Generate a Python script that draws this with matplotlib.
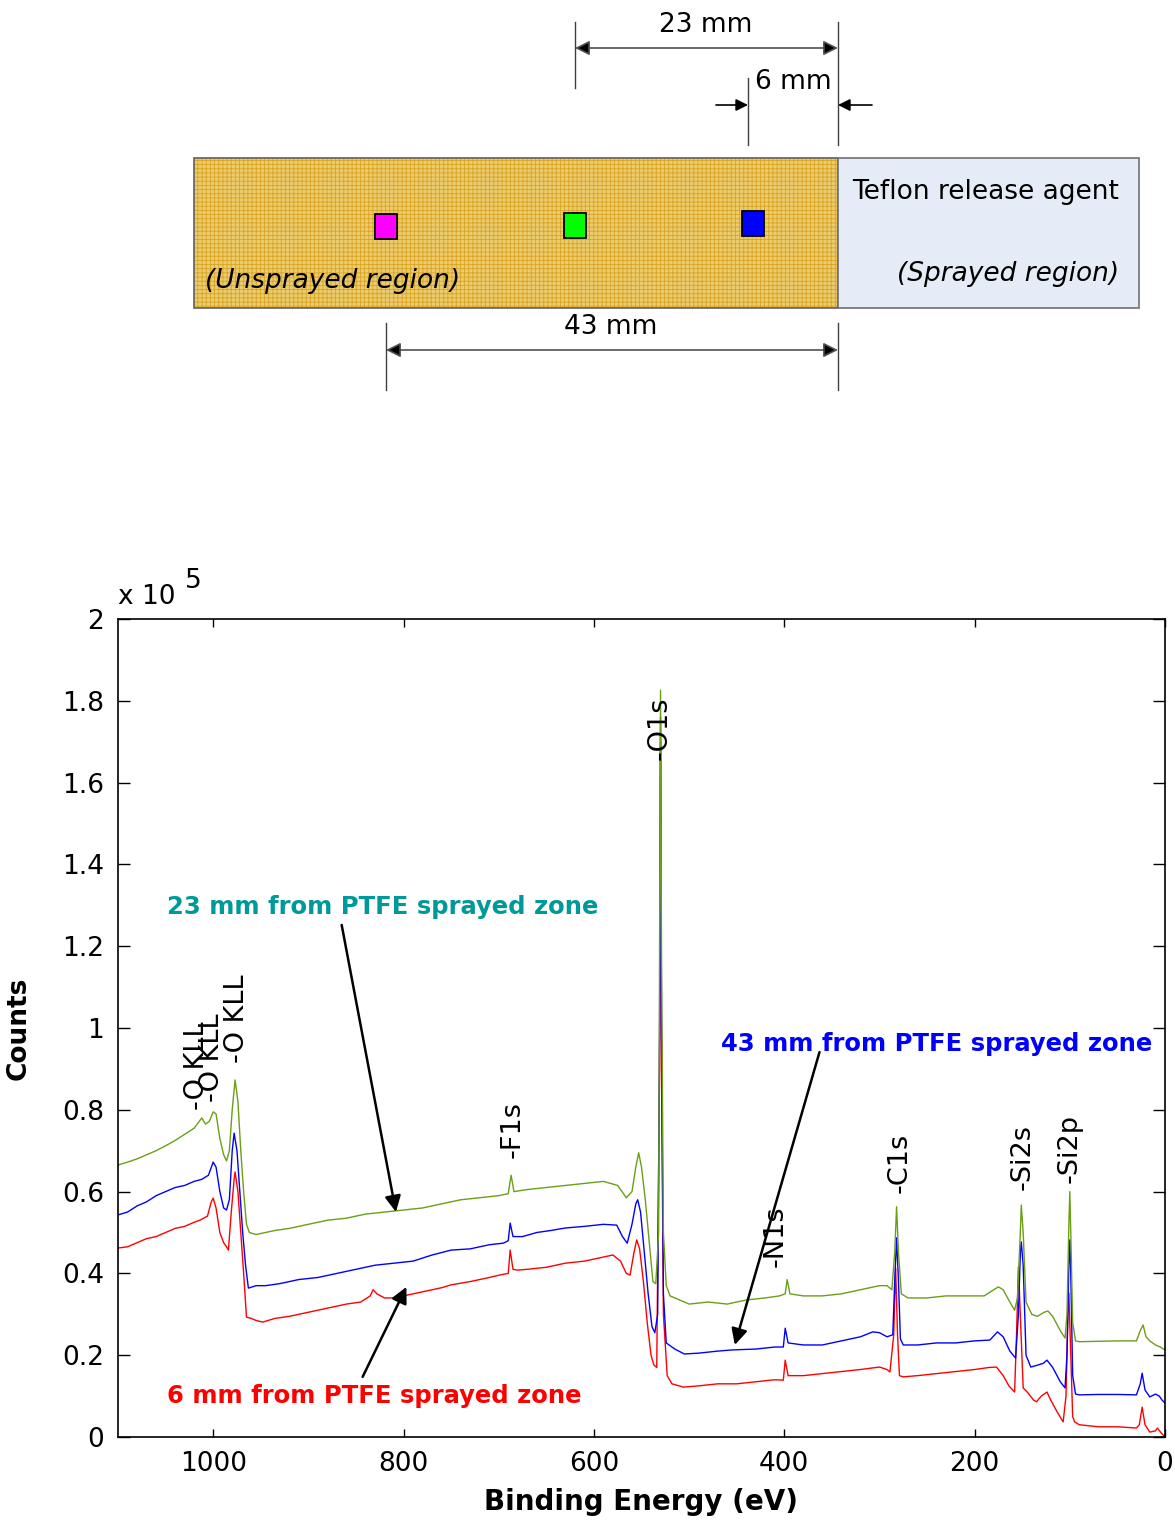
import numpy as np
import matplotlib
matplotlib.use('Agg')
import matplotlib.pyplot as plt
from matplotlib.patches import Rectangle

plt.rcParams['font.family'] = ['DejaVu Sans']
plt.rcParams['hatch.linewidth'] = 0.6

# XPS survey spectra (binding energy in eV, counts in units of 1e5)
green_E = [1100, 1090, 1080, 1070, 1060, 1050, 1040, 1030, 1020, 1012, 1008, 1004, 1000, 997, 993, 989, 986, 983,
           980, 977, 974, 971, 968, 965, 962, 955, 945, 935, 920, 900, 880, 860, 840, 820, 800, 780, 760, 740,
           720, 700, 690, 687, 684, 670, 650, 630, 610, 590, 575, 566, 560, 556, 553, 550, 546, 542, 538, 535,
           532, 531, 530, 529, 527, 524, 520, 510, 500, 480, 460, 440, 420, 405, 399, 397, 394, 380, 360, 340,
           320, 300, 292, 287, 284, 282, 280, 277, 270, 250, 230, 210, 190, 180, 175, 170, 163, 158, 155, 152,
           151, 149, 146, 140, 134, 127, 123, 118, 110, 105, 103, 101, 100, 99, 97, 94, 90, 70, 50, 30, 26, 23,
           20, 16, 10, 5, 0]
green_y = [0.665, 0.672, 0.68, 0.69, 0.70, 0.712, 0.725, 0.74, 0.755, 0.78, 0.765, 0.772, 0.795, 0.79, 0.73, 0.69,
           0.675, 0.70, 0.80, 0.873, 0.82, 0.70, 0.60, 0.52, 0.50, 0.495, 0.50, 0.505, 0.51, 0.52, 0.53, 0.535,
           0.545, 0.55, 0.555, 0.56, 0.57, 0.58, 0.585, 0.59, 0.595, 0.64, 0.60, 0.605, 0.61, 0.615, 0.62, 0.625,
           0.615, 0.585, 0.60, 0.66, 0.695, 0.66, 0.58, 0.48, 0.38, 0.375, 0.50, 1.2, 1.826, 1.2, 0.50, 0.37,
           0.345, 0.335, 0.325, 0.33, 0.325, 0.335, 0.34, 0.345, 0.35, 0.385, 0.35, 0.345, 0.345, 0.35, 0.36,
           0.37, 0.37, 0.36, 0.45, 0.563, 0.45, 0.35, 0.34, 0.34, 0.345, 0.345, 0.345, 0.36, 0.367, 0.36, 0.33,
           0.31, 0.34, 0.50, 0.567, 0.50, 0.33, 0.30, 0.295, 0.305, 0.308, 0.295, 0.26, 0.242, 0.30, 0.52, 0.60,
           0.50, 0.28, 0.235, 0.233, 0.234, 0.235, 0.235, 0.26, 0.274, 0.245, 0.235, 0.225, 0.22, 0.213]

blue_E = [1100, 1090, 1080, 1070, 1060, 1050, 1040, 1030, 1020, 1012, 1005, 1000, 997, 993, 989, 986, 983, 980,
          978, 975, 972, 969, 966, 963, 955, 945, 930, 910, 890, 870, 850, 830, 810, 790, 770, 750, 730, 710,
          695, 690, 688, 685, 675, 660, 645, 630, 610, 590, 576, 570, 565, 560, 556, 554, 551, 547, 543, 539,
          536, 533, 531, 530, 529, 527, 524, 515, 505, 490, 470, 454, 430, 410, 401, 399, 396, 380, 360, 340,
          320, 307, 300, 292, 286, 284, 282, 280, 278, 275, 260, 240, 220, 200, 184, 176, 170, 163, 157, 154,
          152, 151, 149, 146, 141, 135, 128, 124, 118, 110, 105, 103, 101, 100, 99, 97, 94, 90, 70, 50, 30, 26,
          24, 21, 16, 10, 6, 3, 0]
blue_y = [0.543, 0.55, 0.565, 0.575, 0.59, 0.60, 0.61, 0.615, 0.625, 0.63, 0.64, 0.672, 0.66, 0.60, 0.56, 0.555,
          0.58, 0.70, 0.743, 0.70, 0.60, 0.50, 0.42, 0.364, 0.37, 0.37, 0.375, 0.385, 0.39, 0.40, 0.41, 0.42,
          0.425, 0.43, 0.445, 0.457, 0.46, 0.47, 0.474, 0.48, 0.523, 0.49, 0.49, 0.50, 0.505, 0.511, 0.515, 0.52,
          0.518, 0.49, 0.474, 0.52, 0.57, 0.58, 0.55, 0.45, 0.35, 0.27, 0.255, 0.30, 1.0, 1.76, 1.0, 0.35, 0.23,
          0.215, 0.203, 0.205, 0.21, 0.213, 0.215, 0.22, 0.22, 0.266, 0.23, 0.225, 0.225, 0.235, 0.245, 0.257,
          0.255, 0.245, 0.25, 0.38, 0.487, 0.38, 0.24, 0.225, 0.225, 0.23, 0.23, 0.235, 0.237, 0.257, 0.245,
          0.21, 0.193, 0.30, 0.45, 0.477, 0.42, 0.20, 0.171, 0.175, 0.18, 0.188, 0.17, 0.135, 0.12, 0.20, 0.42,
          0.482, 0.40, 0.15, 0.105, 0.103, 0.104, 0.104, 0.103, 0.13, 0.156, 0.115, 0.098, 0.105, 0.10, 0.09,
          0.083]

red_E = [1100, 1090, 1080, 1070, 1060, 1050, 1040, 1030, 1020, 1014, 1006, 1002, 1000, 997, 993, 989, 986, 984,
         981, 978, 977, 974, 971, 968, 965, 960, 955, 948, 935, 920, 900, 880, 860, 845, 835, 832, 828, 820, 811,
         800, 780, 760, 750, 730, 710, 699, 690, 688, 685, 680, 670, 650, 630, 610, 590, 580, 572, 566, 562, 558,
         555, 552, 548, 544, 540, 537, 534, 531, 530, 529, 527, 523, 518, 506, 490, 470, 450, 430, 410, 401, 399,
         396, 380, 360, 340, 320, 300, 292, 289, 285, 283, 281, 279, 275, 260, 240, 220, 200, 185, 177, 170, 164,
         158, 156, 154, 152, 149, 144, 138, 135, 130, 124, 120, 113, 107, 104, 102, 101, 99, 97, 95, 90, 70, 50,
         30, 27, 24, 21, 16, 10, 8, 4, 0]
red_y = [0.462, 0.465, 0.475, 0.485, 0.49, 0.50, 0.51, 0.515, 0.525, 0.53, 0.54, 0.575, 0.584, 0.56, 0.50, 0.475,
         0.465, 0.457, 0.55, 0.63, 0.648, 0.60, 0.50, 0.40, 0.293, 0.29, 0.285, 0.281, 0.29, 0.295, 0.305, 0.315,
         0.325, 0.33, 0.345, 0.36, 0.35, 0.34, 0.34, 0.345, 0.355, 0.365, 0.372, 0.38, 0.39, 0.396, 0.40, 0.457,
         0.41, 0.408, 0.41, 0.415, 0.425, 0.43, 0.44, 0.445, 0.43, 0.40, 0.396, 0.45, 0.482, 0.46, 0.38, 0.28,
         0.20, 0.176, 0.17, 0.9, 1.70, 0.9, 0.30, 0.15, 0.13, 0.122, 0.125, 0.13, 0.13, 0.135, 0.14, 0.139,
         0.188, 0.15, 0.15, 0.155, 0.16, 0.165, 0.171, 0.165, 0.159, 0.25, 0.413, 0.25, 0.15, 0.147, 0.15, 0.155,
         0.16, 0.165, 0.17, 0.171, 0.15, 0.125, 0.11, 0.25, 0.416, 0.30, 0.12, 0.108, 0.09, 0.086, 0.10, 0.11,
         0.09, 0.06, 0.037, 0.10, 0.30, 0.352, 0.20, 0.05, 0.037, 0.03, 0.025, 0.025, 0.022, 0.03, 0.073, 0.03,
         0.012, 0.015, 0.022, 0.01, 0.0]

# peak labels: (text, energy, counts at label foot)
peak_labels = [('-O KLL', 1017, 0.80), ('-O KLL', 1001, 0.82), ('-O KLL', 975, 0.915),
               ('-F1s', 685, 0.682), ('-O1s', 531, 1.655), ('-N1s', 409, 0.416),
               ('-C1s', 279, 0.597), ('-Si2s', 150, 0.604), ('-Si2p', 100, 0.621)]

x_ticks = [1000, 800, 600, 400, 200, 0]
y_ticks = [0, 0.2, 0.4, 0.6, 0.8, 1, 1.2, 1.4, 1.6, 1.8, 2]
y_ticklabels = ['0', '0.2', '0.4', '0.6', '0.8', '1', '1.2', '1.4', '1.6', '1.8', '2']

fig = plt.figure(figsize=(11.75, 15.2), dpi=100)

# ---------------- sample sketch (pixel coords) ----------------
axd = fig.add_axes([0, 1 - 420 / 1520, 1, 420 / 1520])
axd.set_xlim(0, 1175)
axd.set_ylim(420, 0)
axd.axis('off')

axd.add_patch(Rectangle((194, 158), 644, 150, facecolor='#ECCB6E', edgecolor='#D8A524',
                        hatch='++++', linewidth=0))
axd.add_patch(Rectangle((194, 158), 644, 150, facecolor='none', edgecolor='#606060', linewidth=1.2))
axd.add_patch(Rectangle((838, 158), 301, 150, facecolor='#E6ECF7', edgecolor='#707070', linewidth=1.2))

for (x0, y0, c) in [(375, 214, '#FF00FF'), (564, 213, '#00FF00'), (742, 211, '#0000FF')]:
    axd.add_patch(Rectangle((x0, y0), 22, 25, facecolor=c, edgecolor='k', linewidth=1.3))

for (x, ya, yb) in [(575, 22, 88), (838, 22, 145), (748, 78, 145), (386, 323, 390), (838, 323, 390)]:
    axd.plot([x, x], [ya, yb], color='#404040', lw=1)

arr = dict(arrowstyle='<|-|>', color='#505050', lw=1.2, mutation_scale=22, shrinkA=0, shrinkB=0)
axd.annotate('', xy=(838, 48), xytext=(575, 48), arrowprops=dict(arr, fc='k'))
axd.annotate('', xy=(838, 350), xytext=(386, 350), arrowprops=dict(arr, fc='k'))
one = dict(arrowstyle='-|>', color='k', lw=1.2, mutation_scale=18, shrinkA=0, shrinkB=0)
axd.annotate('', xy=(748, 105), xytext=(716, 105), arrowprops=one)
axd.annotate('', xy=(838, 105), xytext=(872, 105), arrowprops=one)

axd.text(706, 25, '23 mm', ha='center', va='center', fontsize=19)
axd.text(793, 82, '6 mm', ha='center', va='center', fontsize=19)
axd.text(611, 327, '43 mm', ha='center', va='center', fontsize=19)
axd.text(986, 192, 'Teflon release agent', ha='center', va='center', fontsize=19)
axd.text(1008, 274, '(Sprayed region)', ha='center', va='center', fontsize=19, style='italic')
axd.text(333, 281, '(Unsprayed region)', ha='center', va='center', fontsize=19, style='italic')

# ---------------- XPS spectra ----------------
ax = fig.add_axes([118 / 1175, 83 / 1520, 1047 / 1175, 818 / 1520])
ax.plot(red_E, red_y, color='#FF0000', lw=1.0)
ax.plot(blue_E, blue_y, color='#0000FF', lw=1.0)
ax.plot(green_E, green_y, color='#6B9F16', lw=1.0)

ax.set_xlim(1100, 0)
ax.set_ylim(0, 2)
ax.set_xticks(x_ticks)
ax.set_yticks(y_ticks)
ax.set_yticklabels(y_ticklabels)
ax.tick_params(direction='in', top=True, right=True, labelsize=19, width=1)
ax.tick_params(axis='y', length=8.5, pad=10)
ax.tick_params(axis='x', length=6, pad=10)
for s in ax.spines.values():
    s.set_linewidth(1.2)

ax.set_xlabel('Binding Energy (eV)', fontsize=20, fontweight='bold', labelpad=8)
ax.set_ylabel('Counts', fontsize=19, fontweight='bold', labelpad=22)

ax.text(0, 1.027, 'x 10', transform=ax.transAxes, fontsize=19, ha='left', va='center')
ax.text(0.064, 1.047, '5', transform=ax.transAxes, fontsize=19, ha='left', va='center')

for (lbl, e, c) in peak_labels:
    ax.text(e, c, lbl, rotation=90, ha='center', va='bottom', fontsize=19.5)

ax.text(822, 1.296, '23 mm from PTFE sprayed zone', color='#009999', fontsize=17.5,
        fontweight='bold', ha='center', va='center')
ax.text(240, 0.961, '43 mm from PTFE sprayed zone', color='#0000FF', fontsize=17.5,
        fontweight='bold', ha='center', va='center')
ax.text(831, 0.100, '6 mm from PTFE sprayed zone', color='#FF0000', fontsize=17.5,
        fontweight='bold', ha='center', va='center')

blk = dict(arrowstyle='-|>', color='k', lw=1.8, mutation_scale=24, shrinkA=0, shrinkB=0)
ax.annotate('', xy=(808, 0.550), xytext=(865, 1.252), arrowprops=blk)
ax.annotate('', xy=(452, 0.225), xytext=(363, 0.941), arrowprops=blk)
ax.annotate('', xy=(797, 0.367), xytext=(843, 0.147), arrowprops=blk)

fig.savefig('out.png', dpi=100)
